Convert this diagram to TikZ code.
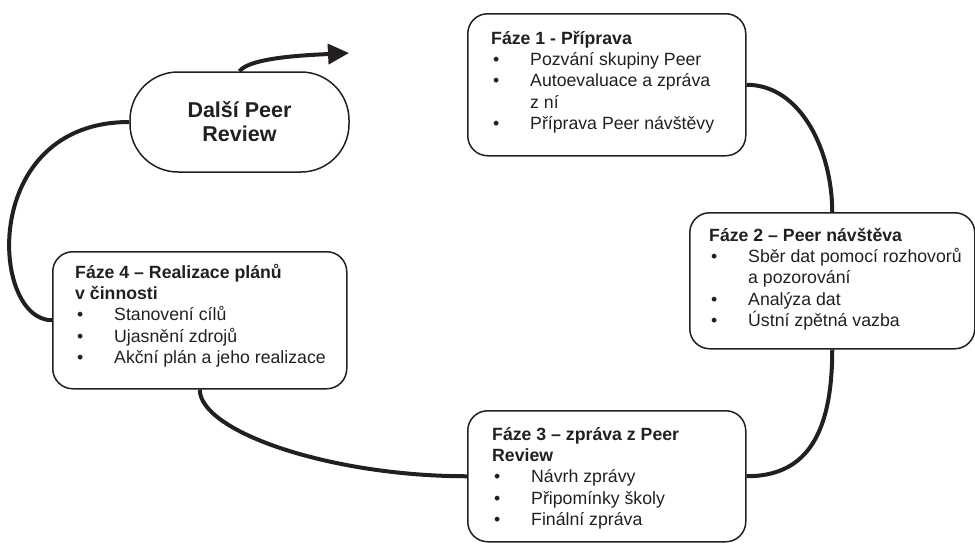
\documentclass[tikz,border=0pt]{standalone}
\usepackage{fontspec}
\setmainfont{Liberation Sans}
\usetikzlibrary{arrows.meta}
\definecolor{tmava}{RGB}{35,31,32}
\newcommand{\polozka}[1]{\makebox[39pt][l]{\hspace{2pt}\textbullet}#1}
\newcommand{\dalsi}[1]{\hspace*{39pt}#1}
\begin{document}
\begin{tikzpicture}[x=1pt,y=-1pt,
		faze/.style={draw=tmava,line width=1.5pt,rounded corners=20pt,anchor=north west,inner sep=0pt},
		popis/.style={anchor=north west,align=left,inner sep=0pt,text=tmava,font=\fontsize{17.7pt}{21.3pt}\selectfont},
		spoj/.style={draw=tmava,line width=4pt}]
	\useasboundingbox (0,0) rectangle (975,544);
	% faze
	\node[faze,minimum width=278pt,minimum height=142pt] (f1) at (467,13) {};
	\node[faze,minimum width=285pt,minimum height=136pt] (f2) at (689,212) {};
	\node[faze,minimum width=278pt,minimum height=131pt] (f3) at (467,410) {};
	\node[faze,minimum width=294pt,minimum height=137pt] (f4) at (52,251) {};
	\node[draw=tmava,line width=1.5pt,rounded corners=48pt,minimum width=219pt,minimum height=100pt,align=center,text=tmava,
		font=\fontsize{21.5pt}{24pt}\selectfont\bfseries] (dpr) at (239.5,122) {Další Peer\\Review};
	% texty
	\node[popis] (t1) at ([shift={(24,14)}]f1.north west) {\rule{0pt}{17pt}\textbf{Fáze 1 - Příprava}\\
		\polozka{Pozvání skupiny Peer}\\
		\polozka{Autoevaluace a zpráva}\\
		\dalsi{z ní}\\
		\polozka{Příprava Peer návštěvy}};
	\node[popis] (t2) at ([shift={(20,12)}]f2.north west) {\rule{0pt}{17pt}\textbf{Fáze 2 – Peer návštěva}\\
		\polozka{Sběr dat pomocí rozhovorů}\\
		\dalsi{a pozorování}\\
		\polozka{Analýza dat}\\
		\polozka{Ústní zpětná vazba}};
	\node[popis] (t3) at ([shift={(25,13)}]f3.north west) {\rule{0pt}{17pt}\textbf{Fáze 3 – zpráva z Peer}\\
		\textbf{Review}\\
		\polozka{Návrh zprávy}\\
		\polozka{Připomínky školy}\\
		\polozka{Finální zpráva}};
	\node[popis] (t4) at ([shift={(23,10)}]f4.north west) {\rule{0pt}{17pt}\textbf{Fáze 4 – Realizace plánů}\\
		\textbf{v činnosti}\\
		\polozka{Stanovení cílů}\\
		\polozka{Ujasnění zdrojů}\\
		\polozka{Akční plán a jeho realizace}};
	% spojnice
	\coordinate (cil) at (349,53);
	\draw[spoj] (f1.east) .. controls +(55,0) and +(0,-60) .. (f2.north);
	\draw[spoj] (f2.south) .. controls +(0,92) and +(55,0) .. (f3.east);
	\draw[spoj] (f4.south) .. controls +(0,42) and +(-137,0) .. (f3.west);
	\draw[spoj] (dpr.west) .. controls +(-150,0) and +(-62,0) .. (f4.west);
	\draw[spoj,-{Triangle[length=21pt,width=20pt]}] (dpr.north) .. controls +(10,-14) and +(-40,2) .. (cil);
\end{tikzpicture}
\end{document}
